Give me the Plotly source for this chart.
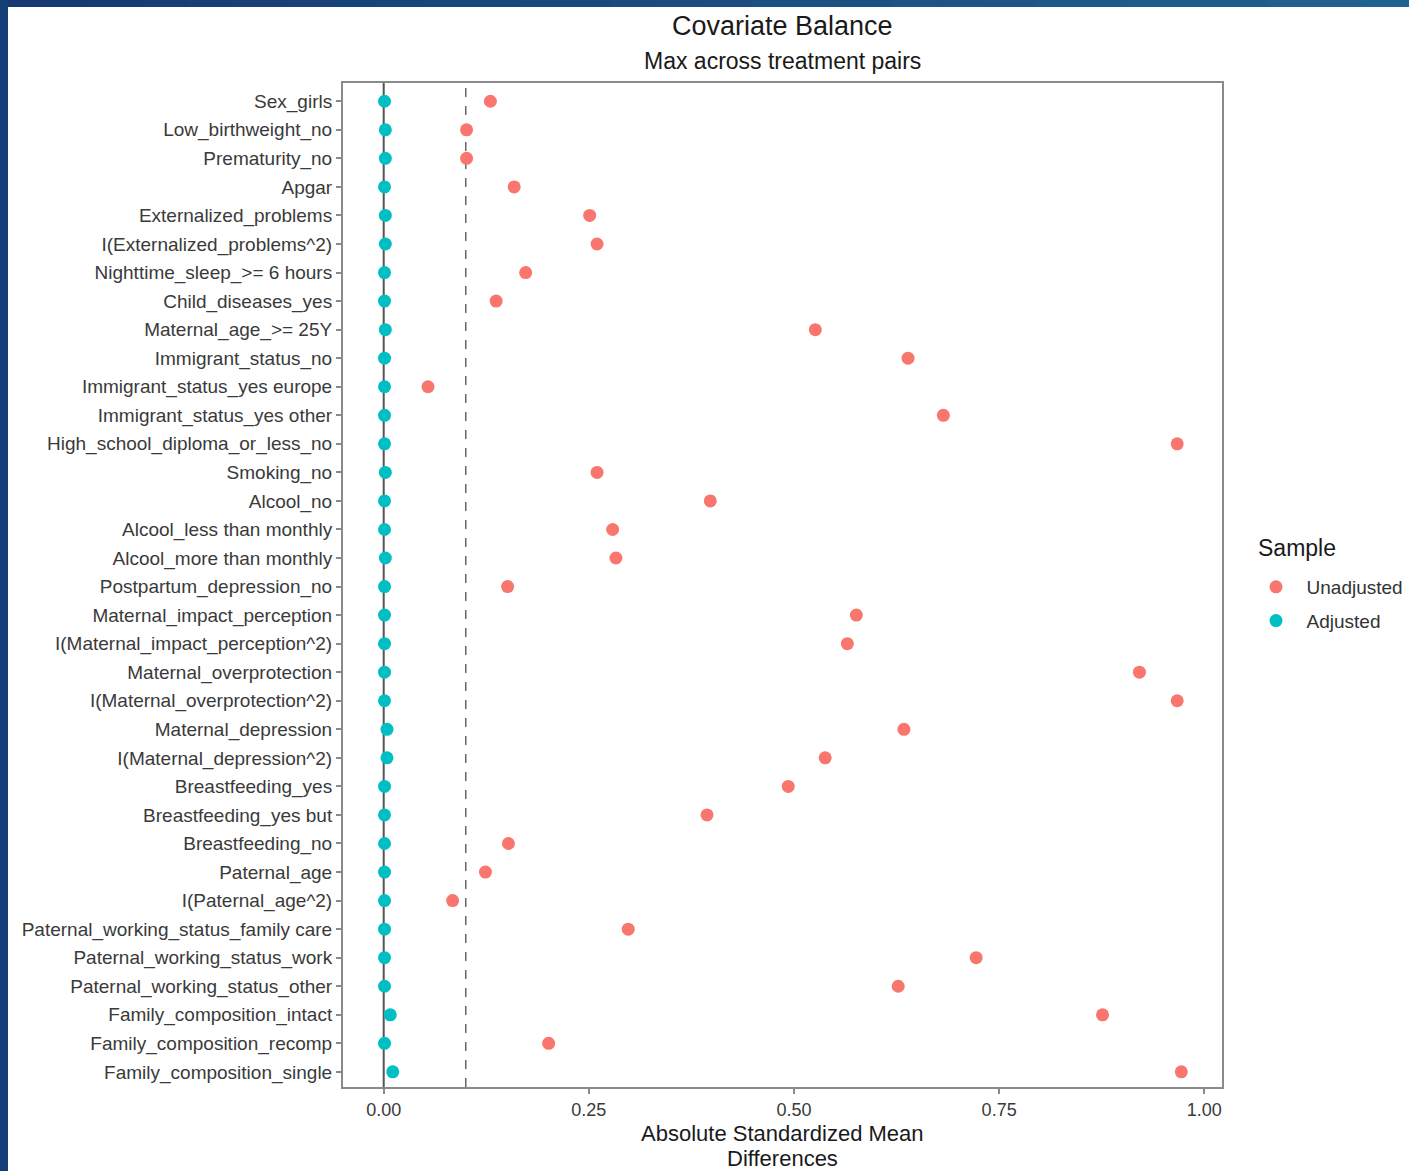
import plotly.graph_objects as go

covariates = [
    "Sex_girls", "Low_birthweight_no", "Prematurity_no", "Apgar",
    "Externalized_problems", "I(Externalized_problems^2)",
    "Nighttime_sleep_>= 6 hours", "Child_diseases_yes", "Maternal_age_>= 25Y",
    "Immigrant_status_no", "Immigrant_status_yes europe",
    "Immigrant_status_yes other", "High_school_diploma_or_less_no",
    "Smoking_no", "Alcool_no", "Alcool_less than monthly",
    "Alcool_more than monthly", "Postpartum_depression_no",
    "Maternal_impact_perception", "I(Maternal_impact_perception^2)",
    "Maternal_overprotection", "I(Maternal_overprotection^2)",
    "Maternal_depression", "I(Maternal_depression^2)", "Breastfeeding_yes",
    "Breastfeeding_yes but", "Breastfeeding_no", "Paternal_age",
    "I(Paternal_age^2)", "Paternal_working_status_family care",
    "Paternal_working_status_work", "Paternal_working_status_other",
    "Family_composition_intact", "Family_composition_recomp",
    "Family_composition_single",
]

unadjusted = [
    0.130, 0.101, 0.101, 0.159, 0.251, 0.260, 0.173, 0.137, 0.526, 0.639,
    0.054, 0.682, 0.967, 0.260, 0.398, 0.279, 0.283, 0.151, 0.576, 0.565,
    0.921, 0.967, 0.634, 0.538, 0.493, 0.394, 0.152, 0.124, 0.084, 0.298,
    0.722, 0.627, 0.876, 0.201, 0.972,
]

adjusted = [
    0.001, 0.002, 0.002, 0.001, 0.002, 0.002, 0.001, 0.001, 0.002, 0.001,
    0.001, 0.001, 0.001, 0.002, 0.001, 0.001, 0.002, 0.001, 0.001, 0.001,
    0.001, 0.001, 0.004, 0.004, 0.001, 0.001, 0.001, 0.001, 0.001, 0.001,
    0.001, 0.001, 0.008, 0.001, 0.011,
]

x_ticks = [0.0, 0.25, 0.5, 0.75, 1.0]
x_tick_labels = ["0.00", "0.25", "0.50", "0.75", "1.00"]
threshold = 0.1

W, H = 1409, 1171
L, R, T, B = 343, 187, 83, 84
PW, PH = W - L - R, H - T - B


def px_x(px):
    return (px - L) / PW


def px_y(py):
    return (H - B - py) / PH


FONT = "Liberation Sans, Arial, sans-serif"
NB = "\u00a0\u00a0"

fig = go.Figure()
fig.add_trace(go.Scatter(
    x=unadjusted, y=covariates, mode="markers", name=NB + "Unadjusted",
    legendgroup="u",
    marker=dict(color="#F8766D", size=13),
))
fig.add_trace(go.Scatter(
    x=adjusted, y=covariates, mode="markers", name=NB + "Adjusted",
    legendgroup="a",
    marker=dict(color="#00BFC4", size=13),
))

shapes = [
    dict(type="line", xref="x", yref="paper", x0=0, x1=0, y0=0, y1=1,
         line=dict(color="#555555", width=2), layer="below"),
    dict(type="line", xref="x", yref="paper", x0=threshold, x1=threshold,
         y0=0, y1=1, line=dict(color="#666666", width=1.5, dash="dash"),
         layer="below"),
]

# slide-style dark blue frame (top gradient + left strip)
n = 30
c0 = (22, 58, 112)
c1 = (32, 98, 142)
for i in range(n):
    t = i / (n - 1)
    col = "rgb({},{},{})".format(*[int(a + (b - a) * t) for a, b in zip(c0, c1)])
    xa = W * i / n
    xb = W * (i + 1) / n + 1
    shapes.append(dict(type="rect", xref="paper", yref="paper",
                       x0=px_x(xa), x1=px_x(xb), y0=px_y(7), y1=px_y(0),
                       fillcolor=col, line=dict(width=0), layer="below"))
shapes.append(dict(type="rect", xref="paper", yref="paper",
                   x0=px_x(0), x1=px_x(8), y0=px_y(H), y1=px_y(0),
                   fillcolor="rgb(22,62,118)", line=dict(width=0), layer="below"))

annotations = [
    dict(text="Covariate Balance", xref="paper", yref="paper",
         x=px_x(782), y=px_y(26), xanchor="center", yanchor="middle",
         showarrow=False, font=dict(family=FONT, size=27, color="#1a1a1a")),
    dict(text="Max across treatment pairs", xref="paper", yref="paper",
         x=px_x(782), y=px_y(61), xanchor="center", yanchor="middle",
         showarrow=False, font=dict(family=FONT, size=23, color="#1a1a1a")),
    dict(text="Absolute Standardized Mean", xref="paper", yref="paper",
         x=px_x(782), y=px_y(1133), xanchor="center", yanchor="middle",
         showarrow=False, font=dict(family=FONT, size=22, color="#1a1a1a")),
    dict(text="Differences", xref="paper", yref="paper",
         x=px_x(782), y=px_y(1158), xanchor="center", yanchor="middle",
         showarrow=False, font=dict(family=FONT, size=22, color="#1a1a1a")),
    dict(text="Sample", xref="paper", yref="paper",
         x=px_x(1256), y=px_y(548), xanchor="left", yanchor="middle",
         showarrow=False, font=dict(family=FONT, size=23, color="#1a1a1a")),
]

fig.update_layout(
    width=W, height=H,
    margin=dict(l=L, r=R, t=T, b=B, autoexpand=False),
    paper_bgcolor="white",
    plot_bgcolor="white",
    font=dict(family=FONT, color="#3a3a3a"),
    shapes=shapes,
    annotations=annotations,
    showlegend=True,
    legend=dict(
        x=px_x(1256), y=px_y(568), xanchor="left", yanchor="top",
        font=dict(family=FONT, size=19, color="#333333"),
        tracegroupgap=6,
        bgcolor="rgba(0,0,0,0)",
    ),
)

fig.update_xaxes(
    range=[-0.0496, 1.0216],
    tickvals=x_ticks, ticktext=x_tick_labels,
    showgrid=False, zeroline=False,
    showline=True, mirror=True, linecolor="#8a8a8a", linewidth=2,
    ticks="outside", ticklen=5, tickcolor="#8a8a8a", tickwidth=1.5,
    tickfont=dict(family=FONT, size=18, color="#3a3a3a"),
)
fig.update_yaxes(
    type="category", categoryorder="array", categoryarray=covariates,
    range=[34.53, -0.64],
    showgrid=False, zeroline=False,
    showline=True, mirror=True, linecolor="#8a8a8a", linewidth=2,
    ticks="outside", ticklen=5, tickcolor="#8a8a8a", tickwidth=1.5,
    tickfont=dict(family=FONT, size=19, color="#3a3a3a"),
)

fig.write_html(
    "out.html",
    config={"displayModeBar": False},
    post_script="document.body.style.margin='0';document.body.style.overflow='hidden';",
)
